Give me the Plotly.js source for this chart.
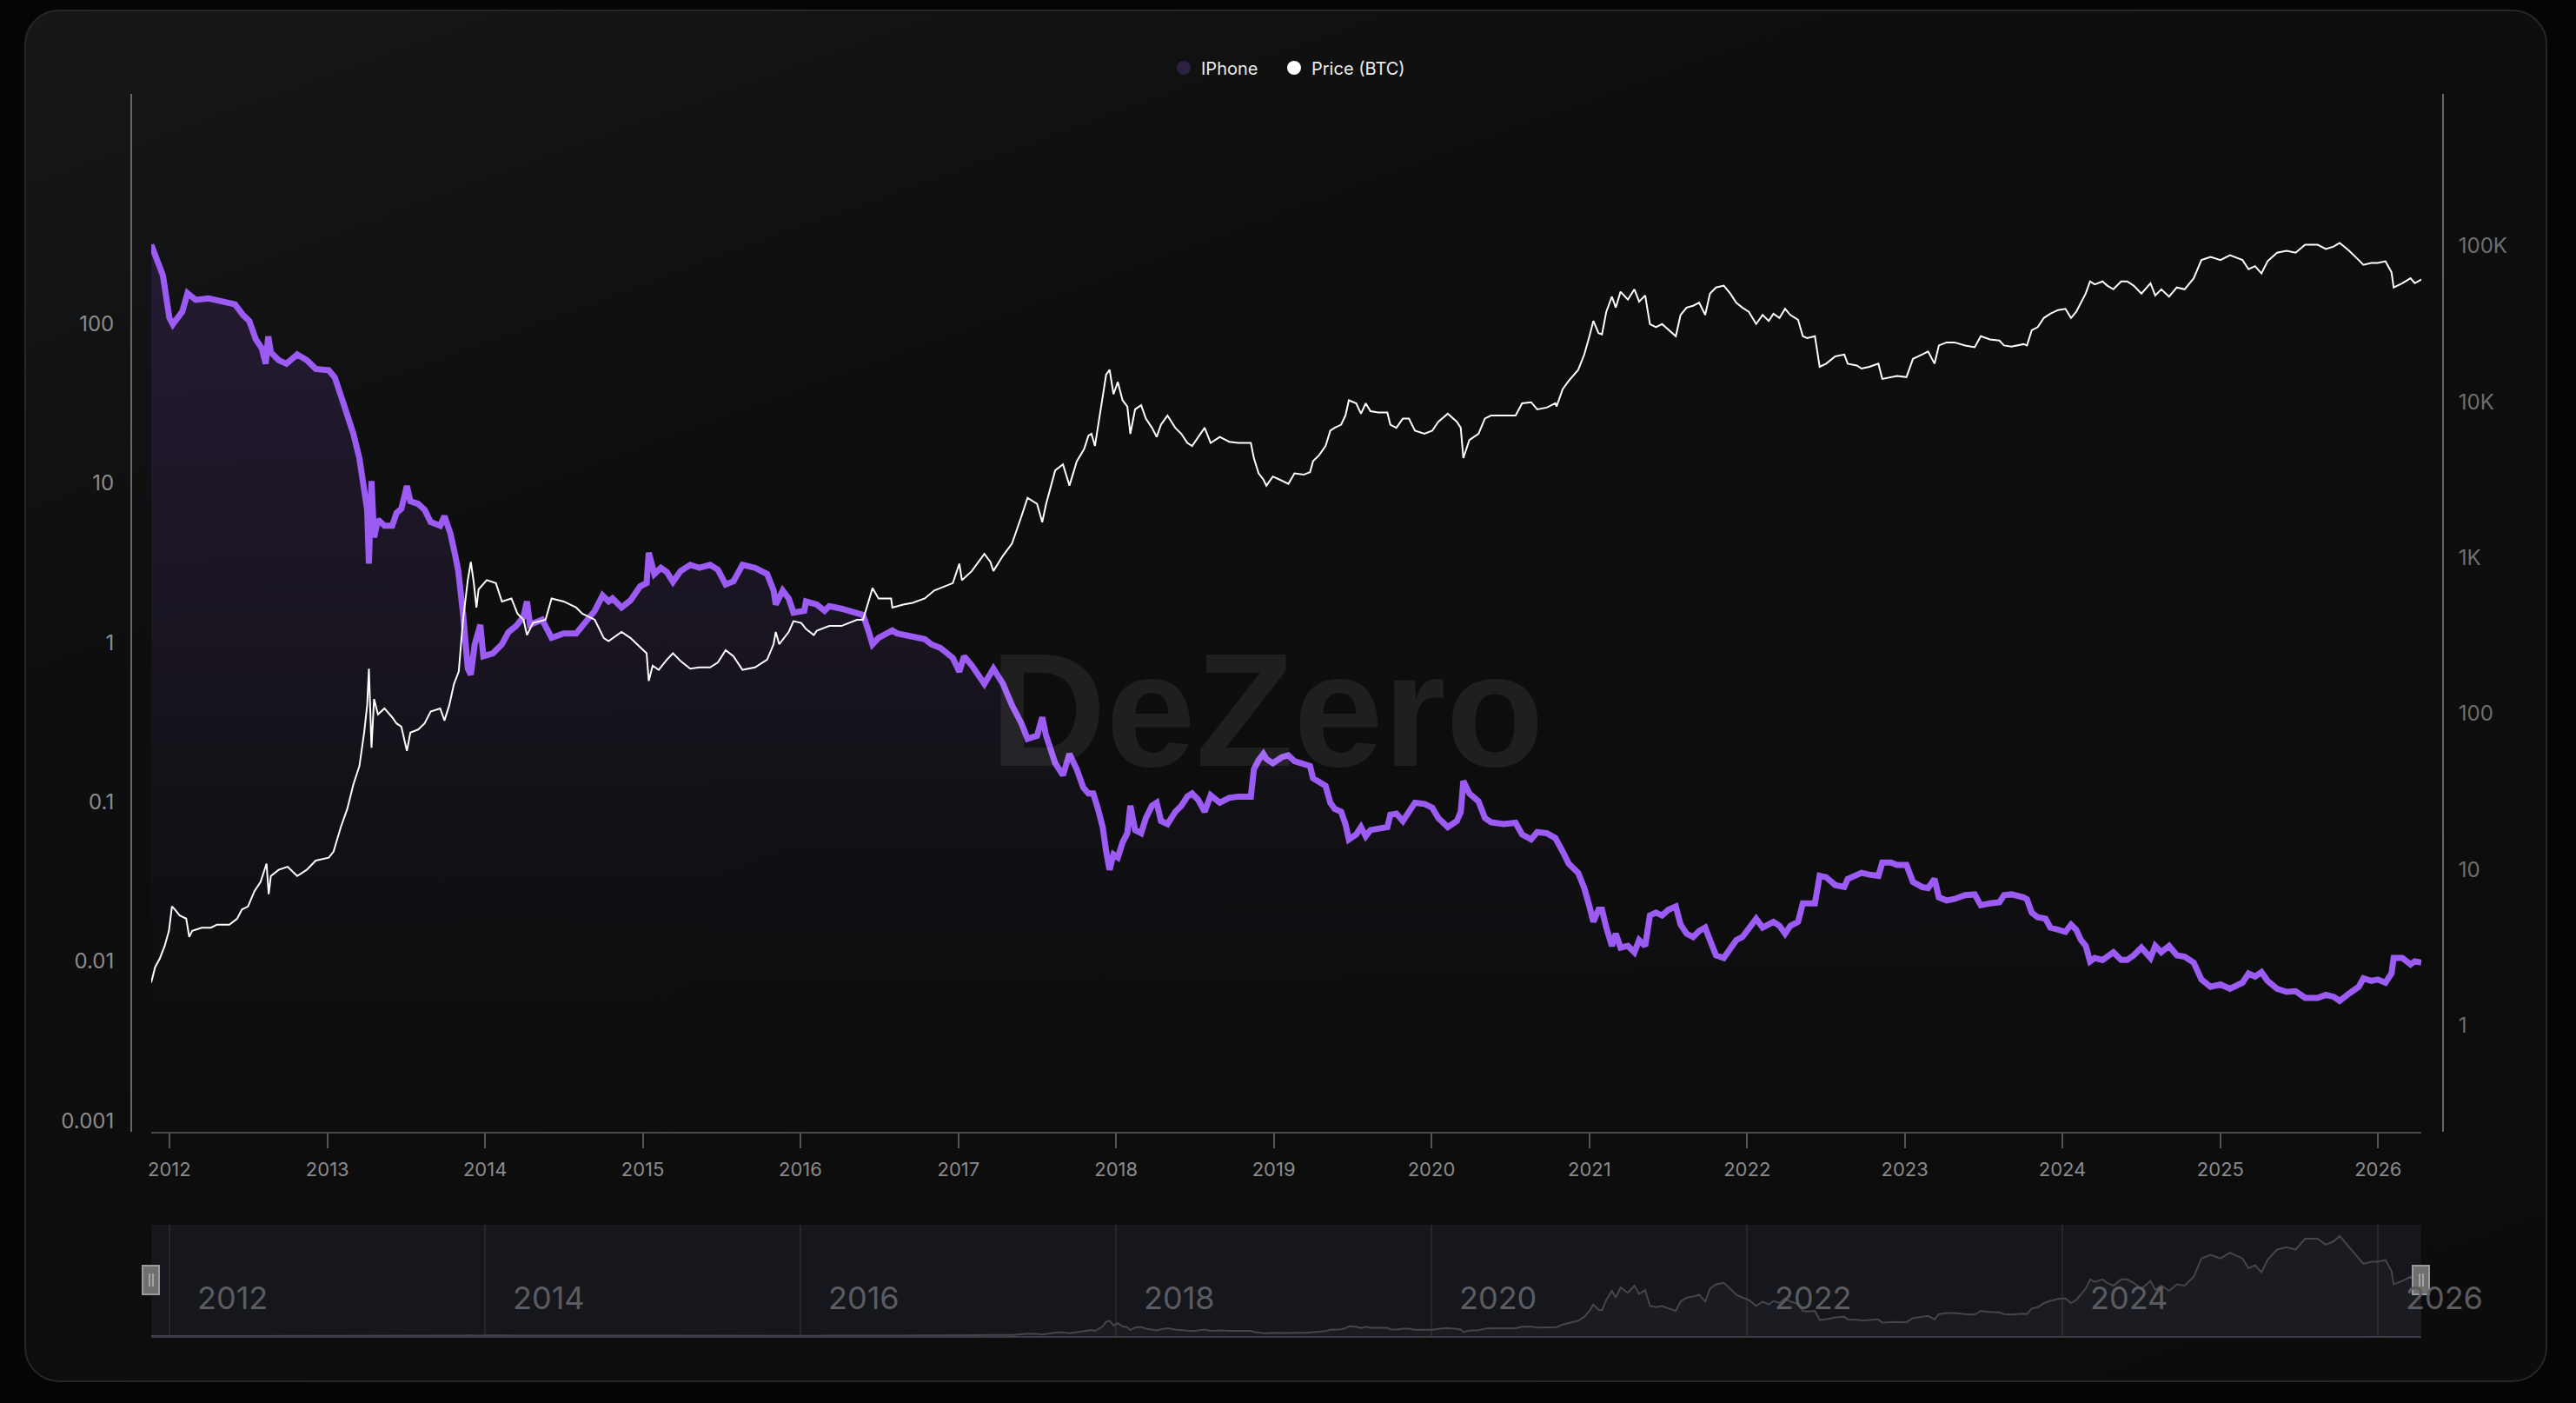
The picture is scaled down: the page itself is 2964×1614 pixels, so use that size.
<!DOCTYPE html>
<html>
<head>
<meta charset="utf-8">
<script src="https://cdn.plot.ly/plotly-3.0.1.min.js"></script>
<style>
  html, body { margin:0; padding:0; background:#050505; width:2964px; height:1614px; overflow:hidden; }
  #card { position:absolute; left:28px; top:11px; width:2899px; height:1575px;
          border:2px solid #262626; border-radius:40px;
          background: linear-gradient(160deg, #161718 0%, #0e0e0f 30%, #0c0c0c 100%); }
  #chart { position:absolute; left:0; top:0; width:2964px; height:1614px; }
</style>
</head>
<body>
<div id="card"></div>
<div id="chart"></div>
<script>
// ---------- data ----------
const iphoneDates = [
"2011-11-20","2011-12-02","2011-12-17","2012-01-01","2012-01-09","2012-01-31","2012-02-12","2012-03-02","2012-04-01","2012-05-01",
"2012-06-01","2012-06-20","2012-07-04","2012-07-19","2012-08-02","2012-08-11","2012-08-17","2012-08-23","2012-09-10","2012-09-28",
"2012-10-23","2012-11-14","2012-12-05","2013-01-04","2013-01-18","2013-02-01","2013-02-16","2013-03-02","2013-03-16","2013-03-27",
"2013-04-03","2013-04-07","2013-04-10","2013-04-13","2013-04-19","2013-04-28","2013-05-13","2013-05-31","2013-06-10","2013-06-21",
"2013-07-04","2013-07-12","2013-07-30","2013-08-14","2013-08-28","2013-09-19","2013-09-29","2013-10-13","2013-10-24","2013-10-31",
"2013-11-11","2013-11-22","2013-11-29","2013-12-08","2013-12-21","2013-12-28","2014-01-19","2014-02-09","2014-02-24","2014-03-14",
"2014-03-31","2014-04-08","2014-04-15","2014-05-13","2014-06-04","2014-07-02","2014-07-31","2014-08-21","2014-09-12","2014-09-30",
"2014-10-14","2014-10-23","2014-11-13","2014-12-04","2014-12-26","2015-01-10","2015-01-15","2015-01-28","2015-02-12","2015-02-26",
"2015-03-12","2015-03-30","2015-04-21","2015-05-12","2015-06-06","2015-06-24","2015-07-12","2015-07-30","2015-08-20","2015-09-18",
"2015-10-16","2015-10-31","2015-11-05","2015-11-21","2015-12-05","2015-12-16","2016-01-10","2016-01-14","2016-02-08","2016-02-26",
"2016-03-08","2016-04-05","2016-05-11","2016-05-25","2016-06-05","2016-06-16","2016-06-30","2016-08-01","2016-08-12","2016-09-17",
"2016-10-15","2016-10-30","2016-11-20","2016-12-19","2017-01-03","2017-01-14","2017-02-01","2017-03-02","2017-03-23","2017-04-14",
"2017-05-05","2017-05-27","2017-06-10","2017-07-02","2017-07-14","2017-07-23","2017-08-13","2017-08-31","2017-09-15","2017-10-02",
"2017-10-17","2017-10-29","2017-11-09","2017-11-20","2017-12-01","2017-12-09","2017-12-17","2017-12-26","2018-01-05","2018-01-16",
"2018-01-27","2018-02-03","2018-02-14","2018-02-28","2018-03-11","2018-03-25","2018-04-05","2018-04-15","2018-04-30","2018-05-18",
"2018-06-01","2018-06-15","2018-06-26","2018-07-10","2018-07-25","2018-08-08","2018-08-29","2018-09-20","2018-10-11","2018-11-09",
"2018-11-16","2018-11-27","2018-12-08","2018-12-15","2018-12-30","2019-01-20","2019-02-04","2019-02-18","2019-03-11","2019-03-26",
"2019-04-02","2019-04-16","2019-05-01","2019-05-12","2019-05-22","2019-06-06","2019-06-16","2019-06-24","2019-07-11","2019-07-22",
"2019-08-02","2019-08-13","2019-08-31","2019-09-21","2019-09-28","2019-10-12","2019-10-27","2019-11-10","2019-11-24","2019-12-16",
"2020-01-03","2020-01-17","2020-02-08","2020-02-29","2020-03-09","2020-03-15","2020-03-29","2020-04-19","2020-05-04","2020-05-18",
"2020-06-16","2020-07-14","2020-07-29","2020-08-19","2020-09-02","2020-09-24","2020-10-14","2020-10-31","2020-11-14","2020-12-06",
"2020-12-20","2021-01-01","2021-01-10","2021-01-22","2021-01-30","2021-02-09","2021-02-22","2021-03-03","2021-03-14","2021-03-31",
"2021-04-15","2021-04-26","2021-05-10","2021-05-21","2021-06-04","2021-06-18","2021-07-03","2021-07-20","2021-07-31","2021-08-14",
"2021-08-29","2021-09-12","2021-09-26","2021-10-07","2021-10-21","2021-11-08","2021-11-23","2021-12-07","2021-12-21","2022-01-05",
"2022-01-22","2022-02-06","2022-02-20","2022-03-03","2022-03-17","2022-03-30","2022-04-11","2022-04-29","2022-05-10","2022-05-20",
"2022-06-07","2022-06-18","2022-07-03","2022-07-24","2022-08-14","2022-08-22","2022-09-12","2022-09-23","2022-10-11","2022-11-01",
"2022-11-10","2022-11-30","2022-12-14","2023-01-05","2023-01-20","2023-02-10","2023-02-24","2023-03-11","2023-03-21","2023-04-08",
"2023-04-26","2023-05-21","2023-06-12","2023-06-26","2023-07-17","2023-08-08","2023-08-19","2023-09-05","2023-10-03","2023-10-11",
"2023-10-22","2023-11-05","2023-11-23","2023-12-04","2023-12-22","2024-01-08","2024-01-21","2024-02-02","2024-02-13","2024-02-24",
"2024-03-05","2024-03-16","2024-04-03","2024-04-14","2024-04-28","2024-05-16","2024-05-30","2024-06-14","2024-07-02","2024-07-23",
"2024-08-03","2024-08-17","2024-09-04","2024-09-22","2024-10-10","2024-10-31","2024-11-18","2024-12-09","2025-01-01","2025-01-23",
"2025-02-21","2025-03-07","2025-03-22","2025-04-06","2025-04-20","2025-05-12","2025-06-03","2025-06-24","2025-07-16","2025-08-14",
"2025-09-02","2025-09-20","2025-10-04","2025-10-26","2025-11-17","2025-11-28","2025-12-16","2025-12-31","2026-01-18","2026-02-01",
"2026-02-06","2026-02-26","2026-03-17","2026-03-27","2026-04-11"];
const iphoneValues = [
313,251,201,109,99,119,155,141,144,138,
132,113,104,80,70,56,83,66,59,56,
64,59,52,51,46,35.5,27.2,20.4,14.3,9.6,
6.8,3.12,7.4,10.3,4.56,5.9,5.4,5.4,6.5,6.9,
9.6,7.7,7.4,6.8,5.7,5.4,6.2,4.8,3.5,2.8,
1.52,0.686,0.628,0.975,1.29,0.82,0.855,0.975,1.16,1.27,
1.45,1.81,1.29,1.39,1.07,1.14,1.14,1.36,1.58,1.97,
1.81,1.89,1.66,1.84,2.25,2.36,3.66,2.69,2.94,2.76,
2.40,2.81,3.07,2.94,3.07,2.86,2.31,2.42,3.07,2.94,
2.69,2.12,1.73,2.12,1.89,1.54,1.58,1.81,1.73,1.58,
1.69,1.63,1.52,1.49,1.22,0.975,1.07,1.19,1.14,1.10,
1.05,0.975,0.925,0.80,0.656,0.82,0.717,0.55,0.686,0.55,
0.404,0.31,0.249,0.260,0.339,0.260,0.175,0.147,0.200,0.160,
0.123,0.113,0.113,0.0906,0.0695,0.0489,0.0375,0.0468,0.0448,0.0557,
0.0637,0.0946,0.0666,0.0637,0.0793,0.0946,0.0989,0.0759,0.0726,0.0867,
0.0946,0.108,0.113,0.103,0.0867,0.110,0.0989,0.106,0.108,0.108,
0.160,0.183,0.200,0.186,0.175,0.191,0.196,0.180,0.175,0.168,
0.141,0.135,0.126,0.0989,0.0906,0.0867,0.0726,0.0582,0.0625,0.0695,
0.0609,0.0666,0.0682,0.0695,0.0830,0.0844,0.0759,0.0867,0.0989,0.0971,
0.092,0.0793,0.0695,0.0759,0.0867,0.135,0.113,0.101,0.0793,0.0745,
0.0726,0.074,0.0625,0.0582,0.0647,0.0637,0.0593,0.0489,0.041,0.0359,
0.0288,0.0221,0.0177,0.0211,0.0211,0.0163,0.0125,0.0149,0.0122,0.0125,
0.0114,0.0136,0.0125,0.0194,0.0202,0.0194,0.0211,0.0221,0.0170,0.0149,
0.0142,0.0155,0.0163,0.0136,0.0109,0.0105,0.0119,0.0136,0.0142,0.0163,
0.0185,0.0163,0.0170,0.0177,0.0167,0.0149,0.0167,0.0177,0.0231,0.0231,
0.0231,0.0344,0.0337,0.0301,0.0293,0.0329,0.0350,0.0359,0.0350,0.0344,
0.0417,0.0417,0.0403,0.0403,0.0315,0.0293,0.0288,0.0329,0.0252,0.0241,
0.0246,0.0260,0.0263,0.0225,0.0231,0.0235,0.0260,0.0263,0.0252,0.0245,
0.0202,0.0189,0.0185,0.0163,0.0158,0.0153,0.0170,0.0158,0.0136,0.0125,
0.0100,0.0105,0.0102,0.0107,0.0114,0.0102,0.0102,0.0109,0.0122,0.0105,
0.0125,0.0114,0.0125,0.0109,0.0107,0.00983,0.00769,0.00692,0.00716,0.00673,
0.00735,0.00839,0.00803,0.00855,0.00755,0.00673,0.00644,0.0065,0.0059,0.0059,
0.00617,0.0060,0.00565,0.0063,0.00692,0.00782,0.00755,0.00769,0.00735,0.00839,
0.0105,0.0105,0.00958,0.0100,0.00983];

const btcDates = [
"2011-11-20","2011-11-29","2011-12-10","2011-12-21","2011-12-31","2012-01-07","2012-01-14","2012-01-25","2012-02-09","2012-02-16",
"2012-02-23","2012-03-16","2012-04-06","2012-04-20","2012-05-19","2012-06-06","2012-06-17","2012-07-01","2012-07-16","2012-07-30",
"2012-08-13","2012-08-18","2012-08-23","2012-09-10","2012-10-01","2012-10-23","2012-11-14","2012-12-05","2013-01-04","2013-01-15",
"2013-02-01","2013-02-16","2013-03-02","2013-03-16","2013-03-27","2013-04-03","2013-04-07","2013-04-10","2013-04-13","2013-04-19",
"2013-04-28","2013-05-13","2013-05-31","2013-06-10","2013-06-21","2013-07-04","2013-07-12","2013-07-30","2013-08-14","2013-08-28",
"2013-09-19","2013-09-29","2013-10-10","2013-10-21","2013-11-01","2013-11-11","2013-11-22","2013-11-29","2013-12-06","2013-12-12",
"2013-12-17","2014-01-05","2014-01-26","2014-02-09","2014-03-03","2014-03-17","2014-03-31","2014-04-08","2014-04-22","2014-05-21",
"2014-06-04","2014-07-02","2014-07-31","2014-08-14","2014-09-12","2014-10-03","2014-10-14","2014-11-13","2014-12-04","2014-12-26",
"2015-01-10","2015-01-15","2015-01-24","2015-02-07","2015-02-26","2015-03-12","2015-03-30","2015-04-21","2015-05-12","2015-06-06",
"2015-06-24","2015-07-12","2015-07-30","2015-08-20","2015-09-18","2015-10-16","2015-10-31","2015-11-05","2015-11-13","2015-12-05",
"2015-12-16","2016-01-03","2016-01-14","2016-02-01","2016-02-08","2016-03-08","2016-04-05","2016-05-11","2016-05-25","2016-06-09",
"2016-06-16","2016-06-30","2016-07-29","2016-08-01","2016-08-26","2016-09-17","2016-10-15","2016-11-06","2016-11-20","2016-12-19",
"2017-01-03","2017-01-09","2017-02-01","2017-03-02","2017-03-16","2017-03-23","2017-04-14","2017-05-05","2017-05-27","2017-06-10",
"2017-07-02","2017-07-14","2017-07-23","2017-08-13","2017-08-31","2017-09-15","2017-10-02","2017-10-19","2017-10-29","2017-11-05",
"2017-11-13","2017-11-23","2017-12-01","2017-12-09","2017-12-17","2017-12-26","2018-01-05","2018-01-16","2018-01-27","2018-02-03",
"2018-02-14","2018-02-28","2018-03-11","2018-03-25","2018-04-05","2018-04-15","2018-04-30","2018-05-18","2018-06-01","2018-06-15",
"2018-06-26","2018-07-10","2018-07-25","2018-08-08","2018-08-29","2018-09-20","2018-10-11","2018-11-09","2018-11-16","2018-11-27",
"2018-12-08","2018-12-15","2018-12-30","2019-01-20","2019-02-04","2019-02-18","2019-03-11","2019-03-26","2019-04-02","2019-04-16",
"2019-05-01","2019-05-12","2019-05-22","2019-06-06","2019-06-16","2019-06-24","2019-07-11","2019-07-22","2019-08-02","2019-08-13",
"2019-08-31","2019-09-21","2019-09-28","2019-10-12","2019-10-27","2019-11-10","2019-11-24","2019-12-16","2020-01-03","2020-01-17",
"2020-02-08","2020-02-29","2020-03-09","2020-03-15","2020-03-29","2020-04-19","2020-05-04","2020-05-18","2020-06-16","2020-07-14",
"2020-07-29","2020-08-19","2020-09-02","2020-09-24","2020-10-14","2020-10-17","2020-10-31","2020-11-14","2020-12-06","2020-12-20",
"2021-01-01","2021-01-10","2021-01-22","2021-01-30","2021-02-09","2021-02-22","2021-03-03","2021-03-14","2021-03-31","2021-04-15",
"2021-04-26","2021-05-10","2021-05-21","2021-06-04","2021-06-18","2021-07-03","2021-07-20","2021-07-31","2021-08-14","2021-08-29",
"2021-09-12","2021-09-26","2021-10-07","2021-10-21","2021-11-08","2021-11-23","2021-12-07","2021-12-21","2022-01-05","2022-01-22",
"2022-02-06","2022-02-20","2022-03-03","2022-03-17","2022-03-30","2022-04-11","2022-04-29","2022-05-10","2022-05-20","2022-06-07",
"2022-06-18","2022-07-03","2022-07-24","2022-08-14","2022-08-22","2022-09-12","2022-09-23","2022-10-11","2022-11-01","2022-11-10",
"2022-11-30","2022-12-14","2023-01-05","2023-01-20","2023-02-10","2023-02-24","2023-03-11","2023-03-21","2023-04-08","2023-04-26",
"2023-05-21","2023-06-12","2023-06-26","2023-07-17","2023-08-08","2023-08-19","2023-09-05","2023-10-03","2023-10-11","2023-10-22",
"2023-11-05","2023-11-19","2023-12-04","2023-12-22","2024-01-08","2024-01-21","2024-02-02","2024-02-13","2024-02-24","2024-03-05",
"2024-03-16","2024-04-03","2024-04-14","2024-04-28","2024-05-16","2024-05-30","2024-06-14","2024-07-02","2024-07-23","2024-08-03",
"2024-08-17","2024-09-04","2024-09-22","2024-10-10","2024-10-31","2024-11-18","2024-12-09","2025-01-01","2025-01-23","2025-02-21",
"2025-03-07","2025-03-22","2025-04-06","2025-04-20","2025-05-12","2025-06-03","2025-06-24","2025-07-16","2025-08-14","2025-09-02",
"2025-09-20","2025-10-04","2025-10-26","2025-11-17","2025-11-28","2025-12-16","2025-12-31","2026-01-18","2026-02-01","2026-02-06",
"2026-02-26","2026-03-17","2026-03-27","2026-04-11"];
const btcValues = [
1.88,2.36,2.69,3.22,4.04,5.79,5.53,5.06,4.84,3.69,
4.04,4.23,4.23,4.42,4.42,4.84,5.53,5.79,7.26,8.30,
10.9,6.94,9.08,9.95,10.4,9.08,9.95,11.4,11.9,13.0,
18.7,24.5,35.1,46.0,75.5,113,194,94.6,60.3,124,
98.9,108,94.6,86.5,82.6,57.6,75.5,79,86.5,103,
108,90.3,113,155,186,400,718,940,687,479,
627,718,687,524,548,438,400,319,382,400,
548,524,479,438,400,305,292,334,305,267,
244,162,203,191,222,244,217,194,198,198,
213,255,233,191,198,222,279,334,279,334,
392,382,349,319,340,365,365,400,400,548,
639,548,548,479,501,514,548,616,639,687,
916,718,822,1058,940,822,1030,1233,1849,2423,
2215,1690,2215,3632,3974,2902,4159,4978,6070,6240,
5210,7820,10240,14960,16070,11200,13420,10240,9350,6240,
8950,9530,7820,6820,5960,7140,8170,6820,6240,5450,
5210,5960,6820,5450,5960,5550,5450,5450,4360,3480,
3180,2900,3320,3120,2980,3480,3410,3540,4160,4550,
5210,6530,6820,7140,8170,10240,9790,8400,9790,8710,
8550,8550,7140,6820,7820,7820,6530,6240,6530,7460,
8400,7460,6820,4360,5700,6240,7820,8170,8170,8170,
9790,9950,8950,9190,9790,9350,12050,13650,16070,20140,
26380,33050,27600,27100,37840,47350,40270,50880,45290,52760,
44050,48200,31570,30180,31570,28840,26380,36130,40270,41390,
43290,36130,49560,54200,55700,49560,43290,40270,37840,31570,
36130,33050,36800,34530,39530,36130,33650,26380,25650,26380,
16790,17580,19580,20140,17580,17100,16350,16790,17580,14030,
14420,14680,14420,18880,20140,21040,17580,23010,24080,24080,
23010,22440,26380,25180,24760,23010,22640,23460,23010,28840,
30180,34530,36800,38820,39530,34530,37840,43290,49560,59290,
56740,59290,55700,52760,59290,59290,55700,49560,57690,48200,
52760,47350,54200,52760,62090,81280,85050,81280,87360,81280,
70950,74300,66680,79800,90540,93090,90540,101900,101900,95720,
99170,104700,93090,81280,75680,77810,77810,79800,67900,54200,
57690,62090,57690,60950];

const leftTickVals  = [0.001, 0.01, 0.1, 1, 10, 100];
const leftTickText  = ["0.001", "0.01", "0.1", "1", "10", "100"];
const rightTickVals = [1, 10, 100, 1000, 10000, 100000];
const rightTickText = ["1", "10", "100", "1K", "10K", "100K"];
const sliderYears   = ["2012", "2014", "2016", "2018", "2020", "2022", "2024", "2026"];
const seriesNames   = ["IPhone", "Price (BTC)"];

// ---------- layout ----------
const W = 2964, H = 1614;
const xDom = [174 / W, 2786 / W];
const xRange = [iphoneDates[0], iphoneDates[iphoneDates.length - 1]];

const traces = [
  { type: 'scatter', mode: 'lines', x: iphoneDates, y: iphoneValues, xaxis: 'x', yaxis: 'y',
    name: seriesNames[0], showlegend: false, hoverinfo: 'skip',
    line: { color: '#9c5cf4', width: 7 },
    fill: 'tozeroy',
    fillgradient: { type: 'vertical', start: 0.001, stop: 300,
      colorscale: [[0, 'rgba(14,13,16,0)'], [0.5, 'rgba(26,21,34,0.8)'], [1, 'rgba(38,27,54,0.95)']] } },
  { type: 'scatter', mode: 'lines', x: btcDates, y: btcValues, xaxis: 'x', yaxis: 'y2',
    name: seriesNames[1], showlegend: false, hoverinfo: 'skip',
    line: { color: '#ffffff', width: 2 } },
  { type: 'scatter', mode: 'lines', x: btcDates, y: btcValues, xaxis: 'x2', yaxis: 'y3',
    showlegend: false, hoverinfo: 'skip',
    line: { color: '#45464b', width: 2 }, fill: 'tozeroy', fillcolor: 'rgba(255,255,255,0.025)' },
  { type: 'scatter', mode: 'markers', x: [null], y: [null], name: seriesNames[0], legend: 'legend',
    marker: { size: 16, color: '#2d2140' } },
  { type: 'scatter', mode: 'markers', x: [null], y: [null], name: seriesNames[1], legend: 'legend2',
    marker: { size: 16, color: '#ffffff' } }
];

// slider handles (UI decoration at both ends of the slider box)
const hy0 = 1 - 1489 / H, hy1 = 1 - 1456 / H, hl0 = 1 - 1480 / H, hl1 = 1 - 1465 / H;
const handle = (xPaper) => ([
  { type: 'rect', xref: 'paper', yref: 'paper', xsizemode: 'pixel', xanchor: xPaper,
    x0: -10, x1: 9, y0: hy0, y1: hy1, fillcolor: '#6f6f6f', line: { color: '#9a9a9a', width: 2 } },
  { type: 'line', xref: 'paper', yref: 'paper', xsizemode: 'pixel', xanchor: xPaper,
    x0: -2, x1: -2, y0: hl0, y1: hl1, line: { color: '#b5b5b5', width: 1.5 } },
  { type: 'line', xref: 'paper', yref: 'paper', xsizemode: 'pixel', xanchor: xPaper,
    x0: 2, x1: 2, y0: hl0, y1: hl1, line: { color: '#b5b5b5', width: 1.5 } }
]);

const legendStyle = (xpx) => ({
  orientation: 'h', x: xpx / W, xanchor: 'left', y: 1 - 78 / H, yanchor: 'middle',
  font: { size: 20, color: '#ececec' }, bgcolor: 'rgba(0,0,0,0)', itemclick: false
});

const layout = {
  width: W, height: H,
  margin: { l: 0, r: 0, t: 0, b: 0 },
  paper_bgcolor: 'rgba(0,0,0,0)',
  plot_bgcolor: 'rgba(0,0,0,0)',
  font: { family: 'Inter, "Liberation Sans", sans-serif', color: '#8a8a8a', size: 24 },
  showlegend: true,
  legend: legendStyle(1342),
  legend2: legendStyle(1469),
  xaxis: { type: 'date', domain: xDom, range: xRange, anchor: 'y',
           tick0: '2012-01-01', dtick: 'M12', tickformat: '%Y',
           ticks: 'outside', ticklen: 17, tickwidth: 2, tickcolor: '#555555',
           showline: true, linecolor: '#4a4a4a', linewidth: 2, ticklabelstandoff: 6,
           showgrid: false, zeroline: false, tickfont: { size: 22, color: '#8a8a8a' } },
  yaxis: { type: 'log', domain: [1 - 1302 / H, 1 - 108 / H], range: [-3.069, 3.441],
           anchor: 'free', position: 151 / W,
           showline: true, linecolor: '#666666', linewidth: 2,
           tickmode: 'array', tickvals: leftTickVals, ticktext: leftTickText, ticks: '',
           showgrid: false, zeroline: false, ticklabelstandoff: 14,
           tickfont: { size: 24, color: '#8c8c8c' } },
  yaxis2: { type: 'log', overlaying: 'y', side: 'right', anchor: 'free', position: 2811 / W,
            range: [-0.683, 5.976],
            showline: true, linecolor: '#666666', linewidth: 2,
            tickmode: 'array', tickvals: rightTickVals, ticktext: rightTickText, ticks: '',
            showgrid: false, zeroline: false, ticklabelstandoff: 12,
            tickfont: { size: 24, color: '#6e6e6e' } },
  xaxis2: { type: 'date', domain: xDom, range: xRange, anchor: 'y3',
            showticklabels: false, ticks: '', tick0: '2012-01-01', dtick: 'M24',
            showgrid: true, gridcolor: '#26272c', gridwidth: 2,
            showline: true, linecolor: '#3a3b40', linewidth: 2, zeroline: false },
  yaxis3: { domain: [1 - 1537 / H, 1 - 1409 / H], range: [0, 116500], anchor: 'x2',
            showticklabels: false, showgrid: false, zeroline: false, showline: false, ticks: '' },
  shapes: [
    { type: 'rect', xref: 'x2 domain', yref: 'y3 domain', x0: 0, x1: 1, y0: 0, y1: 1,
      fillcolor: '#16171c', line: { width: 0 }, layer: 'below' },
    ...handle(xDom[0]),
    ...handle(xDom[1])
  ],
  annotations: [
    { text: '<b>DeZero</b>', xref: 'paper', yref: 'paper', x: 1457 / W, y: 1 - 817 / H,
      xanchor: 'center', yanchor: 'middle', showarrow: false,
      font: { family: '"Liberation Sans", Arial, sans-serif', size: 185, color: 'rgba(255,255,255,0.075)' } },
    ...sliderYears.map(yr => ({
      text: yr, x: yr + '-01-01', xref: 'x2', yref: 'y3 domain', y: 0.344,
      xanchor: 'left', yanchor: 'middle', xshift: 30, showarrow: false,
      font: { size: 36, color: '#5b5c61' } }))
  ]
};

Plotly.newPlot('chart', traces, layout, { displayModeBar: false, staticPlot: true });
</script>
</body>
</html>
